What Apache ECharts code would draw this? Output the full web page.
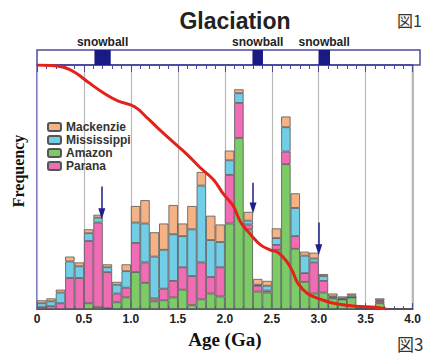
<!DOCTYPE html>
<html>
<head>
<meta charset="utf-8">
<script src="https://cdn.jsdelivr.net/npm/echarts@6/dist/echarts.min.js"></script>
<style>
  html, body { margin: 0; padding: 0; background: #fff; }
  #chart { width: 424px; height: 354px; }
</style>
</head>
<body>
<div id="chart"></div>
<script>
// 0.1 Ga bins, 0.0 .. 3.9
const bins = [];
for (let i = 0; i < 40; i += 1) bins.push((i / 10).toFixed(1));

// stacked frequencies (arbitrary units), bottom to top: Amazon, Parana, Mississippi, Mackenzie
const amazon = [0, 0, 0, 0, 0, 6, 2, 1, 7, 12, 38, 27, 8, 9, 12, 20, 4, 10, 16, 13,
  88, 176, 82, 18, 17, 61, 149, 62, 28, 16, 17, 11, 10, 12, 0, 0, 6, 0, 0, 0];
const parana = [2, 3, 6, 32, 32, 64, 87, 37, 9, 10, 30, 21, 3, 12, 17, 23, 30, 38, 17, 30,
  50, 36, 5, 6, 2, 5, 13, 13, 9, 32, 12, 1, 0, 0, 0, 0, 2, 0, 0, 0];
const mississippi = [4, 5, 11, 17, 12, 8, 5, 5, 9, 17, 21, 40, 43, 40, 48, 32, 48, 79, 38, 26,
  15, 10, 4, 1, 5, 7, 25, 29, 18, 4, 5, 1, 1, 2, 0, 0, 1, 0, 0, 0];
const mackenzie = [3, 3, 3, 5, 4, 4, 3, 3, 3, 7, 17, 24, 25, 27, 30, 13, 24, 14, 25, 18,
  10, 4, 9, 6, 5, 10, 11, 15, 4, 6, 2, 3, 2, 2, 0, 0, 2, 0, 0, 0];

// cumulative curve (fraction)
const cumAges = [0, 0.27, 0.41, 0.55, 0.73, 0.86, 1.04, 1.18, 1.31, 1.46, 1.6, 1.73, 1.88, 1.98,
  2.09, 2.17, 2.28, 2.38, 2.48, 2.57, 2.66, 2.72, 2.78, 2.88, 2.99, 3.16, 3.39, 3.61, 3.72];
const cumFrac = [1.0, 0.992, 0.968, 0.928, 0.88, 0.853, 0.829, 0.781, 0.733, 0.681, 0.633, 0.582,
  0.53, 0.474, 0.422, 0.355, 0.303, 0.263, 0.243, 0.231, 0.195, 0.155, 0.104, 0.064, 0.044,
  0.024, 0.012, 0.008, 0.0];

// snowball events (Ga)
const snowStart = [0.6, 2.25, 2.94];
const snowEnd = [0.77, 2.36, 3.06];
const snowLabel = ['snowball', 'snowball', 'snowball'];

// arrows (age, from, to) in frequency units
const arrowAges = [0.69, 2.3, 3.0];
const arrowFrom = [126, 130, 89];
const arrowTo = [98, 104, 61];

const frame = '#4b4b9e';
const sans = 'Liberation Sans, Arial, sans-serif';
const serif = 'Liberation Serif, Times New Roman, serif';

const chart = echarts.init(document.getElementById('chart'), null, { renderer: 'svg' });

const barSeries = (name, data, color) => ({
  name,
  type: 'bar',
  stack: 'freq',
  xAxisIndex: 0,
  yAxisIndex: 0,
  data,
  barWidth: '100%',
  barCategoryGap: '0%',
  itemStyle: { color, borderColor: '#555', borderWidth: 0.8 },
  emphasis: { disabled: true }
});

const option = {
  animation: false,
  grid: [
    { left: 37, right: 4, top: 65, bottom: 38, show: true, borderColor: frame, borderWidth: 1.5 },
    { left: 37, right: 4, top: 50, height: 15, show: true, borderColor: frame, borderWidth: 1.5 }
  ],
  legend: {
    data: ['Mackenzie', 'Mississippi', 'Amazon', 'Parana'],
    orient: 'vertical',
    left: 47,
    top: 121,
    padding: 0,
    itemWidth: 13,
    itemHeight: 8,
    itemGap: 1,
    textStyle: { fontFamily: sans, fontWeight: 'bold', fontSize: 12, color: '#333' }
  },
  xAxis: [
    { type: 'category', gridIndex: 0, data: bins, show: false, boundaryGap: true },
    {
      type: 'value', gridIndex: 0, min: 0, max: 4, interval: 0.5, position: 'bottom',
      axisLine: { show: true, lineStyle: { color: frame, width: 1.5 } },
      axisTick: { show: true, inside: true, length: 6, lineStyle: { color: frame } },
      minorTick: { show: true, splitNumber: 5, length: 3, lineStyle: { color: frame } },
      splitLine: { show: true, lineStyle: { color: '#b8b8b8', width: 1.2 } },
      axisLabel: {
        formatter: v => (v === 0 ? '0' : v.toFixed(1)),
        fontFamily: sans, fontWeight: 'bold', fontSize: 12, color: '#222', margin: 4
      },
      name: 'Age (Ga)',
      nameLocation: 'middle',
      nameGap: 17,
      nameTextStyle: { fontFamily: serif, fontWeight: 'bold', fontSize: 19, color: '#111' }
    },
    {
      type: 'value', gridIndex: 0, min: 0, max: 4, interval: 0.5, position: 'top',
      axisLine: { show: true, lineStyle: { color: frame, width: 1.5 } },
      axisTick: { show: true, inside: true, length: 7, lineStyle: { color: frame } },
      minorTick: { show: true, splitNumber: 5, length: 4, lineStyle: { color: frame } },
      splitLine: { show: false },
      axisLabel: { show: false }
    },
    { type: 'value', gridIndex: 1, min: 0, max: 4, show: false }
  ],
  yAxis: [
    { type: 'value', gridIndex: 0, min: 0, max: 251, show: false },
    { type: 'value', gridIndex: 0, min: 0, max: 1, show: false },
    { type: 'value', gridIndex: 1, min: 0, max: 1, show: false }
  ],
  graphic: [
    {
      type: 'text', x: 235, y: 21,
      style: { text: 'Glaciation', align: 'center', verticalAlign: 'middle',
        font: 'bold 23px ' + sans, fill: '#222' }
    },
    {
      type: 'text', x: 18, y: 171, rotation: Math.PI / 2,
      style: { text: 'Frequency', align: 'center', verticalAlign: 'middle',
        font: 'bold 16px ' + serif, fill: '#111' }
    },
    {
      type: 'text', x: 397, y: 20,
      style: { text: '図1', verticalAlign: 'middle', font: '16px Noto Sans CJK JP', fill: '#333' }
    },
    {
      type: 'text', x: 397, y: 343,
      style: { text: '図3', verticalAlign: 'middle', font: '17px Noto Sans CJK JP', fill: '#333' }
    }
  ],
  series: [
    barSeries('Amazon', amazon, '#7ccb66'),
    barSeries('Parana', parana, '#f06cb5'),
    barSeries('Mississippi', mississippi, '#72cde6'),
    barSeries('Mackenzie', mackenzie, '#f5b284'),
    {
      name: 'cumulative',
      type: 'line',
      xAxisIndex: 1,
      yAxisIndex: 1,
      data: cumAges.map((a, i) => [a, cumFrac[i]]),
      smooth: 0.4,
      symbol: 'none',
      lineStyle: { color: '#e3231b', width: 3 },
      z: 5
    },
    {
      name: 'arrows',
      type: 'line',
      xAxisIndex: 1,
      yAxisIndex: 0,
      data: [],
      z: 6,
      markLine: {
        silent: true,
        symbol: ['none', 'triangle'],
        symbolSize: [7, 11],
        label: { show: false },
        lineStyle: { color: '#1e1e8c', width: 1.5, type: 'solid' },
        data: arrowAges.map((a, i) => [{ coord: [a, arrowFrom[i]] }, { coord: [a, arrowTo[i]] }])
      }
    },
    {
      name: 'snowball',
      type: 'custom',
      xAxisIndex: 3,
      yAxisIndex: 2,
      clip: false,
      data: snowStart.map((s, i) => [s, snowEnd[i]]),
      renderItem: (params, api) => {
        const p0 = api.coord([api.value(0), 1]);
        const p1 = api.coord([api.value(1), 0]);
        return {
          type: 'group',
          children: [
            {
              type: 'rect',
              shape: { x: p0[0], y: p0[1], width: p1[0] - p0[0], height: p1[1] - p0[1] },
              style: { fill: '#1a1a85' }
            },
            {
              type: 'text',
              style: {
                text: snowLabel[params.dataIndex],
                x: (p0[0] + p1[0]) / 2, y: p0[1] - 8,
                align: 'center', verticalAlign: 'middle',
                font: 'bold 12px ' + sans, fill: '#222'
              }
            }
          ]
        };
      }
    }
  ]
};

chart.setOption(option);
</script>
</body>
</html>
